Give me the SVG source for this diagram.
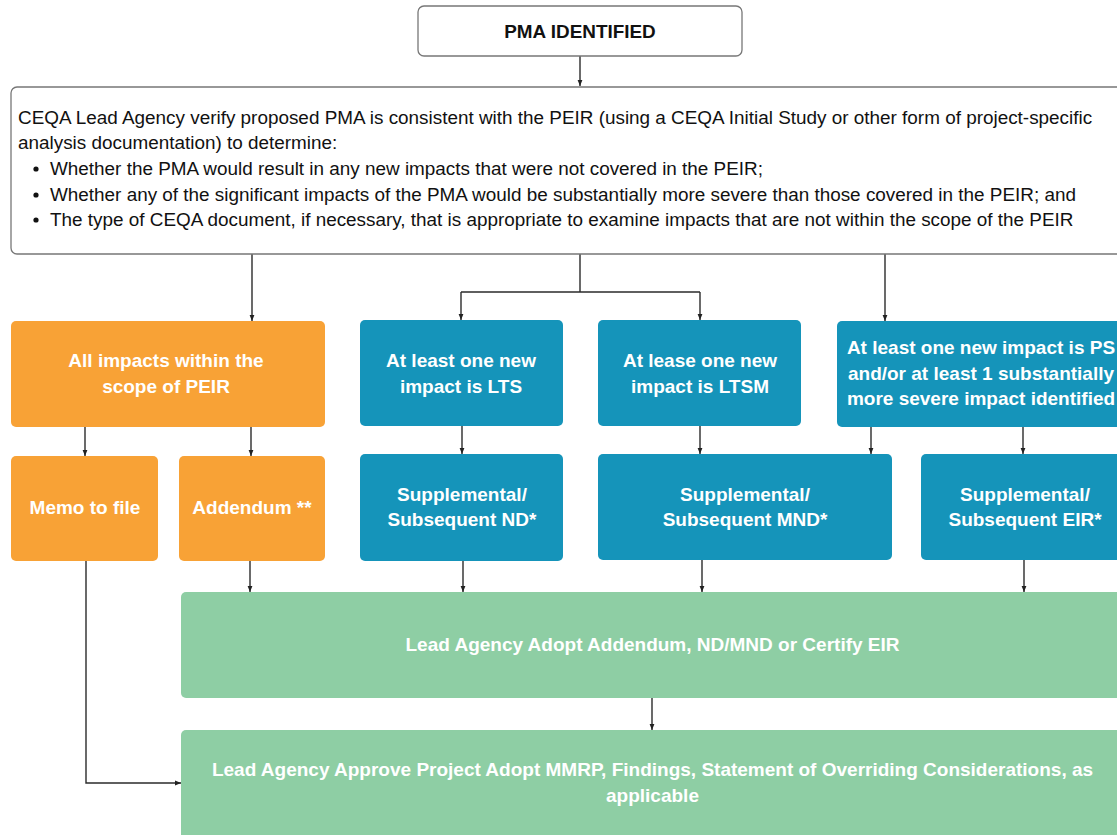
<svg xmlns="http://www.w3.org/2000/svg" width="1117" height="835" viewBox="0 0 1117 835">
<defs>
<marker id="ah" viewBox="0 0 10 10" refX="10" refY="5" markerWidth="6" markerHeight="6" markerUnits="userSpaceOnUse" orient="auto">
<path d="M0,1 L10,5 L0,9 z" fill="#222"/>
</marker>
<style>
.c{fill:none;stroke:#2b2b2b;stroke-width:1.4;marker-end:url(#ah)}
.or{fill:#f8a236}
.bl{fill:#1594ba}
.gr{fill:#8ecea4}
.wt{fill:#ffffff;font-family:"Liberation Sans",Arial,sans-serif;font-weight:bold;font-size:19px;text-anchor:middle}
.bk{fill:#111;font-family:"Liberation Sans",Arial,sans-serif;font-size:18.9px}
</style>
</defs>
<rect width="1117" height="835" fill="#ffffff"/>
<g id="connectors">
<path class="c" d="M580,56 V86"/>
<path class="c" d="M252,254 V321"/>
<path d="M580,254 V292 M461,292 H700" fill="none" stroke="#2b2b2b" stroke-width="1.4"/>
<path class="c" d="M461,292 V320"/>
<path class="c" d="M700,292 V320"/>
<path class="c" d="M885,254 V321"/>
<path class="c" d="M85,427 V456"/>
<path class="c" d="M251,427 V456"/>
<path class="c" d="M462,426 V454"/>
<path class="c" d="M700,426 V454"/>
<path class="c" d="M871,427 V454"/>
<path class="c" d="M1023,427 V454"/>
<path class="c" d="M250,561 V592"/>
<path class="c" d="M463,561 V592"/>
<path class="c" d="M702,560 V592"/>
<path class="c" d="M1024,560 V592"/>
<path class="c" d="M652,698 V730"/>
<path class="c" d="M86,561 V783 H181"/>
</g>
<g id="pma">
<rect x="418" y="6" width="324" height="50" rx="6" fill="#fff" stroke="#777" stroke-width="1.3"/>
<text x="580" y="38" text-anchor="middle" style="font-family:'Liberation Sans',Arial,sans-serif;font-weight:bold;font-size:18.9px;fill:#111">PMA IDENTIFIED</text>
</g>
<g id="verify">
<rect x="11" y="87" width="1130" height="167" rx="6" fill="#fff" stroke="#777" stroke-width="1.3"/>
<text class="bk" x="18" y="124">CEQA Lead Agency verify proposed PMA is consistent with the PEIR (using a CEQA Initial Study or other form of project-specific</text>
<text class="bk" x="18" y="149">analysis documentation) to determine:</text>
<circle cx="36" cy="169" r="2.6" fill="#111"/>
<circle cx="36" cy="195" r="2.6" fill="#111"/>
<circle cx="36" cy="220" r="2.6" fill="#111"/>
<text class="bk" x="50" y="175">Whether the PMA would result in any new impacts that were not covered in the PEIR;</text>
<text class="bk" x="50" y="201">Whether any of the significant impacts of the PMA would be substantially more severe than those covered in the PEIR; and</text>
<text class="bk" x="50" y="226">The type of CEQA document, if necessary, that is appropriate to examine impacts that are not within the scope of the PEIR</text>
</g>
<g id="within">
<rect class="or" x="11" y="321" width="314" height="106" rx="5"/>
<text class="wt" x="166" y="367">All impacts within the</text>
<text class="wt" x="166" y="393">scope of PEIR</text>
</g>
<g id="lts">
<rect class="bl" x="360" y="320" width="203" height="106" rx="5"/>
<text class="wt" x="461" y="367">At least one new</text>
<text class="wt" x="461" y="393">impact is LTS</text>
</g>
<g id="ltsm">
<rect class="bl" x="598" y="320" width="203" height="106" rx="5"/>
<text class="wt" x="700" y="367">At lease one new</text>
<text class="wt" x="700" y="393">impact is LTSM</text>
</g>
<g id="ps">
<rect class="bl" x="837" y="321" width="290" height="106" rx="5"/>
<text class="wt" x="981" y="354">At least one new impact is PS</text>
<text class="wt" x="981" y="380">and/or at least 1 substantially</text>
<text class="wt" x="981" y="405">more severe impact identified</text>
</g>
<g id="memo">
<rect class="or" x="11" y="456" width="147" height="105" rx="5"/>
<text class="wt" x="85" y="514">Memo to file</text>
</g>
<g id="addendum">
<rect class="or" x="179" y="456" width="146" height="105" rx="5"/>
<text class="wt" x="252" y="514">Addendum **</text>
</g>
<g id="nd">
<rect class="bl" x="360" y="454" width="203" height="107" rx="5"/>
<text class="wt" x="462" y="501">Supplemental/</text>
<text class="wt" x="462" y="526">Subsequent ND*</text>
</g>
<g id="mnd">
<rect class="bl" x="598" y="454" width="294" height="106" rx="5"/>
<text class="wt" x="745" y="501">Supplemental/</text>
<text class="wt" x="745" y="526">Subsequent MND*</text>
</g>
<g id="eir">
<rect class="bl" x="921" y="454" width="208" height="106" rx="5"/>
<text class="wt" x="1025" y="501">Supplemental/</text>
<text class="wt" x="1025" y="526">Subsequent EIR*</text>
</g>
<g id="adopt">
<rect class="gr" x="181" y="592" width="943" height="106" rx="5"/>
<text class="wt" x="652.5" y="651">Lead Agency Adopt Addendum, ND/MND or Certify EIR</text>
</g>
<g id="approve">
<rect class="gr" x="181" y="730" width="943" height="115" rx="5"/>
<text class="wt" x="652.5" y="776">Lead Agency Approve Project Adopt MMRP, Findings, Statement of Overriding Considerations, as</text>
<text class="wt" x="652.5" y="802">applicable</text>
</g>
</svg>
